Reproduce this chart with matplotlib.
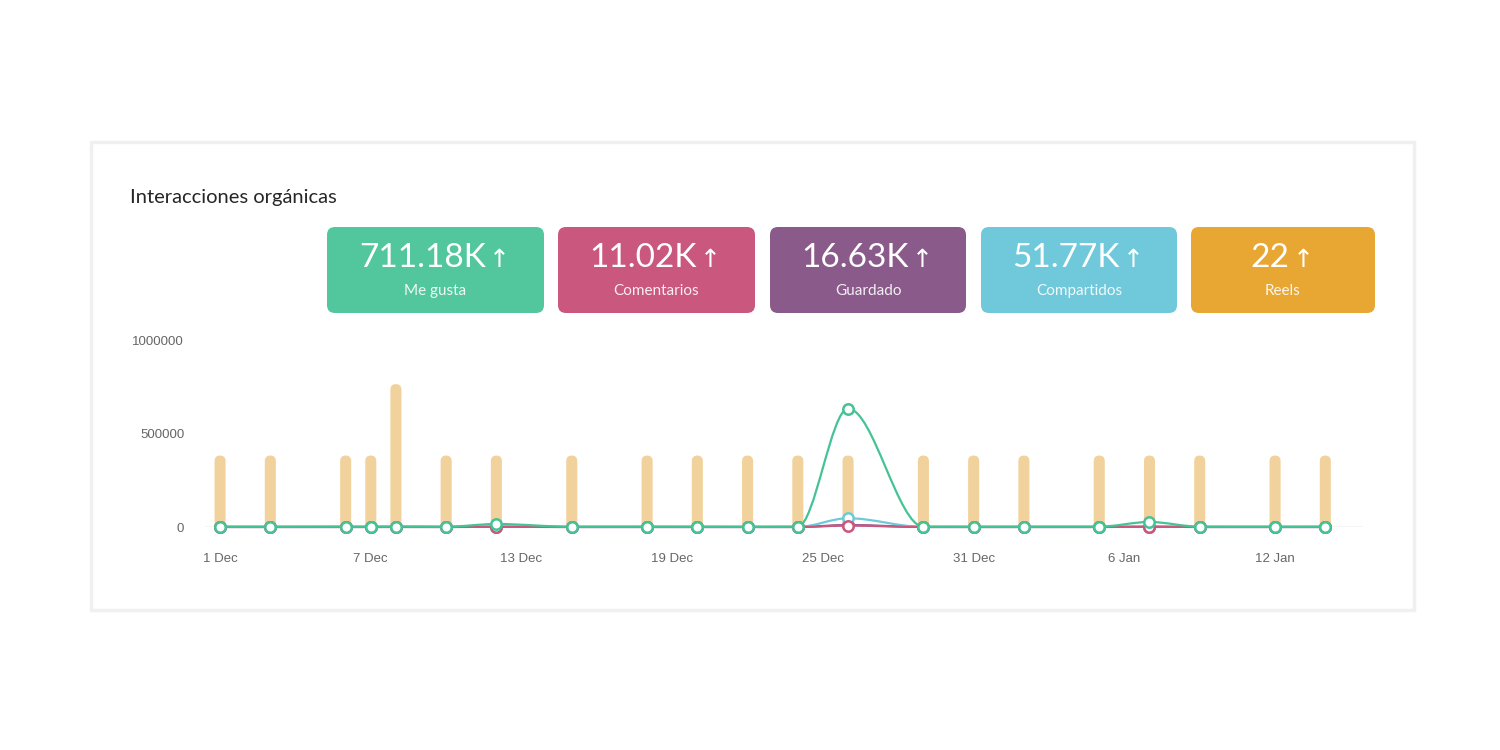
import matplotlib
matplotlib.use("Agg")
import matplotlib.pyplot as plt
import matplotlib.dates as mdates
from matplotlib.patches import FancyBboxPatch, Rectangle, PathPatch
from matplotlib.path import Path
import numpy as np
import pandas as pd

# ---- datos ----
fechas = pd.to_datetime([
    "2023-12-01", "2023-12-03", "2023-12-06", "2023-12-07", "2023-12-08",
    "2023-12-10", "2023-12-12", "2023-12-15", "2023-12-18", "2023-12-20",
    "2023-12-22", "2023-12-24", "2023-12-26", "2023-12-29", "2023-12-31",
    "2024-01-02", "2024-01-05", "2024-01-07", "2024-01-09", "2024-01-12",
    "2024-01-14",
])
me_gusta = [1500, 1200, 1800, 1400, 2600, 1300, 16000, 1200, 1500, 1300,
            1100, 1400, 635000, 1600, 1200, 1300, 1500, 27000, 1400, 1200, 1300]
comentarios = [200, 150, 200, 180, 300, 160, 900, 150, 170, 150,
               140, 160, 7500, 180, 150, 160, 170, 1200, 150, 140, 150]
guardado = [300, 250, 300, 280, 450, 260, 1200, 250, 270, 250,
            240, 260, 10500, 280, 250, 260, 270, 1500, 250, 240, 250]
compartidos = [150, 120, 150, 140, 250, 130, 900, 120, 140, 130,
               120, 130, 47000, 140, 120, 130, 140, 1800, 130, 120, 130]
reels = [1, 1, 1, 1, 2, 1, 1, 1, 1, 1, 1, 1, 1, 1, 1, 1, 1, 1, 1, 1, 1]

ticks_x = pd.date_range("2023-12-01", periods=8, freq="6D")
ticks_y = [0, 500000, 1000000]

tarjetas_valor = ["711.18K", "11.02K", "16.63K", "51.77K", "22"]
tarjetas_texto = ["Me gusta", "Comentarios", "Guardado", "Compartidos", "Reels"]
tarjetas_color = ["#52c79e", "#c9577e", "#8a5b8a", "#6fc9db", "#e8a633"]

titulo = "Interacciones orgánicas"

# ---- figura ----
plt.rcParams["font.family"] = ["Lato", "DejaVu Sans"]
fig = plt.figure(figsize=(15, 7.5), dpi=100)
fig.patch.set_facecolor("white")

# capa de fondo en coordenadas de pixel
bg = fig.add_axes([0, 0, 1, 1], zorder=0)
bg.set_xlim(0, 1500)
bg.set_ylim(750, 0)
bg.axis("off")

# panel con borde suave
bg.add_patch(Rectangle((91, 142), 1323, 468, facecolor="white",
                       edgecolor="#f0f0f0", linewidth=2.5))
bg.text(130, 197, titulo, fontsize=14.5, color="#262626", va="center", ha="left")

# tarjetas
card_pos = [(327, 544), (558, 755), (770, 966), (981, 1177), (1191, 1375)]
num_texts = []
for (x0, x1), val, lab, col in zip(card_pos, tarjetas_valor, tarjetas_texto, tarjetas_color):
    bg.add_patch(FancyBboxPatch((x0, 227), x1 - x0, 86,
                                boxstyle="round,pad=0,rounding_size=8",
                                facecolor=col, edgecolor="none"))
    cx = (x0 + x1) / 2
    t = bg.text(cx - 13, 258, val, fontsize=24, color="white",
                ha="center", va="center")
    num_texts.append(t)
    bg.text(cx, 291, lab, fontsize=11, color="white", ha="center", va="center",
            alpha=0.9)

fig.canvas.draw()
inv = bg.transData.inverted()
for t in num_texts:
    bb = t.get_window_extent(renderer=fig.canvas.get_renderer())
    xr = inv.transform((bb.x1, bb.y0))[0]
    bg.text(xr + 3, 260, "↑", fontsize=18, color="white",
            ha="left", va="center", family=["DejaVu Sans"])

# ---- gráfico ----
ax_l, ax_r, ax_t, ax_b = 205, 1363, 340.5, 527
ax2 = fig.add_axes([ax_l / 1500, 1 - ax_b / 750, (ax_r - ax_l) / 1500, (ax_b - ax_t) / 750],
                   zorder=1)
ax = fig.add_axes(ax2.get_position(), zorder=2)
ax.patch.set_visible(False)

xnum = mdates.date2num(fechas)
x_min = mdates.date2num(pd.Timestamp("2023-12-01")) - 0.6
x_max = mdates.date2num(pd.Timestamp("2024-01-15")) + 0.5

# barras de reels (eje secundario oculto), con extremos redondeados
y2_max = 2.61
bars = ax2.bar(xnum, reels, width=0.44, color="#f2d29c", edgecolor="none", zorder=1)
ax2.set_ylim(0, y2_max)
ax2.set_xlim(x_min, x_max)
ax2.axis("off")
px_x = (ax_r - ax_l) / (x_max - x_min)   # pixeles por dia
px_y = (ax_b - ax_t) / y2_max            # pixeles por reel
for b in bars:
    b.set_visible(False)
    w = b.get_width()
    ax2.add_patch(FancyBboxPatch((b.get_x(), -0.15), w, b.get_height() + 0.15,
                                 boxstyle=f"round,pad=0,rounding_size={w / 2:.3f}",
                                 mutation_aspect=px_x / px_y,
                                 facecolor="#f2d29c", edgecolor="none", zorder=1))


def smooth_path(x, y):
    """Curva monotona (bezier cubica) que pasa por los puntos."""
    x = np.asarray(x, float)
    y = np.asarray(y, float)
    dx = np.diff(x)
    m = np.diff(y) / dx
    tg = np.zeros(len(x))
    tg[0], tg[-1] = m[0], m[-1]
    for i in range(1, len(x) - 1):
        if m[i - 1] * m[i] > 0:
            tg[i] = 2.0 / (1.0 / m[i - 1] + 1.0 / m[i])
    verts = [(x[0], y[0])]
    codes = [Path.MOVETO]
    for i in range(len(x) - 1):
        h = dx[i] / 3.0
        verts += [(x[i] + h, y[i] + tg[i] * h),
                  (x[i + 1] - h, y[i + 1] - tg[i + 1] * h),
                  (x[i + 1], y[i + 1])]
        codes += [Path.CURVE4] * 3
    return Path(verts, codes)


series = [
    (guardado, tarjetas_color[2]),
    (compartidos, tarjetas_color[3]),
    (comentarios, tarjetas_color[1]),
    (me_gusta, "#45c394"),
]
for k, (vals, col) in enumerate(series):
    z = 3 + k
    ax.add_patch(PathPatch(smooth_path(xnum, vals), facecolor="none",
                           edgecolor=col, linewidth=1.6, zorder=z, clip_on=False))
    ax.plot(xnum, vals, linestyle="none", marker="o", markersize=7.5,
            markerfacecolor="white", markeredgecolor=col, markeredgewidth=1.8,
            zorder=z + 0.5, clip_on=False)

ax.axhline(0, color="#d0d0d0", linewidth=1, zorder=2)
ax.set_xlim(x_min, x_max)
ax.set_ylim(0, 1000000)
ax.set_xticks(mdates.date2num(ticks_x))
ax.set_xticklabels([f"{d.day} {d.strftime('%b')}" for d in ticks_x])
ax.set_yticks(ticks_y)
ax.set_yticklabels([str(v) for v in ticks_y])
for lbl in ax.get_xticklabels() + ax.get_yticklabels():
    lbl.set_family(["Liberation Sans", "DejaVu Sans"])
    lbl.set_fontsize(9.5)
    lbl.set_color("#666666")
ax.tick_params(axis="both", length=0)
ax.tick_params(axis="x", pad=19)
ax.tick_params(axis="y", pad=15)
for s in ax.spines.values():
    s.set_visible(False)

fig.savefig("out.png", dpi=100, facecolor="white")
